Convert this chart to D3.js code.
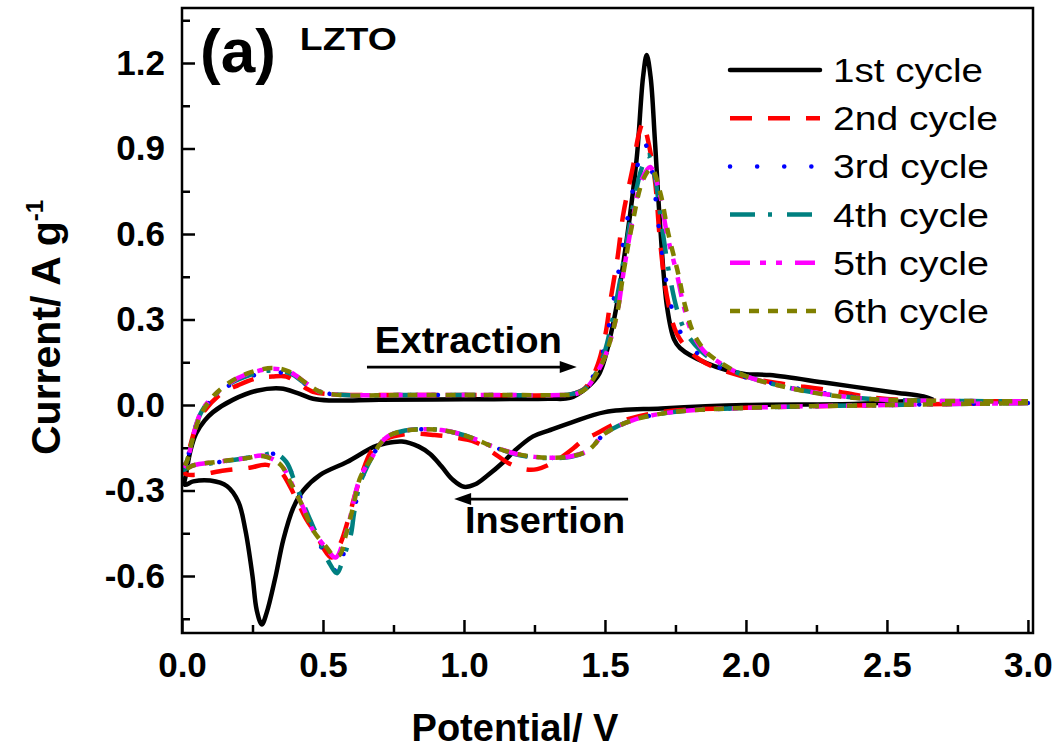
<!DOCTYPE html>
<html>
<head>
<meta charset="utf-8">
<script src="https://cdn.jsdelivr.net/npm/d3@7"></script>
<style>
  body { margin: 0; background: #fff; }
  svg { display: block; font-family: "Liberation Sans", Arial, sans-serif; }
</style>
</head>
<body>
<svg id="cv" width="1064" height="753"></svg>
<script>
// potential (V), current (A g-1) traced along each CV loop
const cycle1 = [
  [2.66,0.02],[2.4,0.004],[2.0,0.0],[1.7,-0.012],[1.5,-0.025],[1.38,-0.062],[1.3,-0.09],[1.245,-0.11],
  [1.18,-0.16],[1.14,-0.2],[1.08,-0.25],[1.04,-0.278],[1.0,-0.287],[0.96,-0.262],[0.92,-0.215],
  [0.88,-0.172],[0.84,-0.146],[0.78,-0.128],[0.72,-0.135],[0.68,-0.147],[0.585,-0.2],[0.49,-0.245],
  [0.43,-0.3],[0.395,-0.36],[0.36,-0.47],[0.33,-0.61],[0.3,-0.73],[0.283,-0.77],[0.265,-0.72],
  [0.25,-0.6],[0.225,-0.44],[0.2,-0.34],[0.16,-0.285],[0.1,-0.265],[0.04,-0.268],[0.01,-0.28],
  [0.015,-0.24],[0.03,-0.16],[0.05,-0.1],[0.08,-0.055],[0.11,-0.025],[0.18,0.018],[0.265,0.05],
  [0.35,0.058],[0.41,0.042],[0.465,0.022],[0.525,0.016],[0.7,0.018],[1.0,0.02],[1.3,0.022],
  [1.376,0.025],[1.435,0.06],[1.48,0.11],[1.53,0.29],[1.577,0.58],[1.613,0.87],[1.635,1.15],
  [1.648,1.228],[1.662,1.15],[1.677,0.93],[1.695,0.64],[1.72,0.345],[1.745,0.23],[1.766,0.2],
  [1.86,0.147],[1.99,0.11],[2.085,0.105],[2.29,0.077],[2.52,0.045],[2.63,0.03],[2.66,0.02]
]
const cycle2 = [
  [3.0,0.008],[2.5,0.0],[2.0,-0.01],[1.7,-0.025],[1.55,-0.06],[1.47,-0.1],[1.42,-0.125],[1.39,-0.15],
  [1.32,-0.2],[1.26,-0.225],[1.22,-0.226],[1.16,-0.205],[1.1,-0.165],[1.04,-0.13],[0.96,-0.113],
  [0.89,-0.105],[0.82,-0.1],[0.75,-0.11],[0.7,-0.13],[0.667,-0.17],[0.64,-0.235],[0.615,-0.31],
  [0.59,-0.4],[0.56,-0.49],[0.53,-0.535],[0.5,-0.5],[0.48,-0.46],[0.44,-0.4],[0.41,-0.34],
  [0.38,-0.28],[0.35,-0.235],[0.3,-0.21],[0.24,-0.22],[0.15,-0.23],[0.05,-0.245],[0.01,-0.24],
  [0.015,-0.2],[0.03,-0.14],[0.05,-0.075],[0.08,-0.02],[0.146,0.045],[0.2,0.07],[0.27,0.095],
  [0.32,0.1],[0.37,0.1],[0.42,0.07],[0.465,0.046],[0.52,0.038],[0.7,0.035],[1.0,0.035],[1.35,0.035],
  [1.39,0.04],[1.43,0.06],[1.47,0.13],[1.5,0.24],[1.52,0.37],[1.545,0.52],[1.565,0.67],[1.6,0.84],
  [1.62,0.95],[1.635,0.99],[1.65,0.94],[1.677,0.79],[1.695,0.58],[1.72,0.38],[1.755,0.25],[1.81,0.18],
  [1.87,0.14],[1.99,0.1],[2.11,0.077],[2.29,0.053],[2.46,0.025],[2.64,0.015],[3.0,0.013]
]
const cycle3 = [
  [3.0,0.007],[2.5,0.0],[2.0,-0.01],[1.74,-0.025],[1.6,-0.053],[1.5,-0.1],[1.44,-0.16],[1.38,-0.18],
  [1.32,-0.186],[1.25,-0.183],[1.18,-0.172],[1.1,-0.145],[1.04,-0.12],[0.98,-0.1],[0.92,-0.088],
  [0.85,-0.085],[0.78,-0.092],[0.73,-0.11],[0.7,-0.14],[0.67,-0.19],[0.65,-0.23],[0.63,-0.28],
  [0.61,-0.38],[0.595,-0.46],[0.578,-0.5],[0.555,-0.595],[0.535,-0.57],[0.51,-0.535],[0.47,-0.44],
  [0.43,-0.35],[0.4,-0.27],[0.37,-0.2],[0.336,-0.172],[0.28,-0.18],[0.2,-0.19],[0.1,-0.205],
  [0.03,-0.215],[0.005,-0.225],[0.02,-0.185],[0.035,-0.125],[0.05,-0.07],[0.07,-0.025],[0.1,0.015],
  [0.17,0.07],[0.24,0.1],[0.3,0.113],[0.36,0.113],[0.4,0.1],[0.44,0.072],[0.49,0.046],[0.56,0.036],
  [0.8,0.035],[1.1,0.035],[1.35,0.035],[1.39,0.04],[1.43,0.06],[1.47,0.125],[1.5,0.21],[1.52,0.31],
  [1.545,0.45],[1.57,0.6],[1.6,0.76],[1.625,0.88],[1.64,0.92],[1.66,0.86],[1.68,0.72],[1.7,0.55],
  [1.73,0.37],[1.76,0.27],[1.81,0.2],[1.87,0.15],[1.99,0.1],[2.11,0.072],[2.29,0.04],[2.46,0.021],
  [2.64,0.015],[3.0,0.013]
]
const cycle4 = [
  [3.0,0.007],[2.5,0.0],[2.0,-0.01],[1.74,-0.025],[1.6,-0.053],[1.5,-0.1],[1.44,-0.16],[1.38,-0.182],
  [1.32,-0.186],[1.25,-0.184],[1.18,-0.172],[1.1,-0.145],[1.04,-0.12],[0.98,-0.1],[0.92,-0.088],
  [0.85,-0.085],[0.78,-0.092],[0.73,-0.11],[0.7,-0.14],[0.67,-0.19],[0.65,-0.23],[0.63,-0.28],
  [0.61,-0.38],[0.6,-0.45],[0.585,-0.5],[0.565,-0.56],[0.55,-0.59],[0.52,-0.55],[0.48,-0.46],
  [0.44,-0.37],[0.4,-0.27],[0.37,-0.2],[0.33,-0.17],[0.28,-0.178],[0.2,-0.19],[0.1,-0.205],
  [0.03,-0.215],[0.005,-0.228],[0.02,-0.19],[0.035,-0.13],[0.05,-0.07],[0.07,-0.022],[0.1,0.018],
  [0.17,0.075],[0.24,0.105],[0.3,0.12],[0.35,0.12],[0.39,0.108],[0.43,0.08],[0.48,0.05],[0.56,0.036],
  [0.8,0.035],[1.1,0.035],[1.35,0.035],[1.39,0.04],[1.43,0.058],[1.47,0.115],[1.5,0.19],[1.52,0.27],
  [1.545,0.39],[1.57,0.53],[1.6,0.7],[1.63,0.83],[1.652,0.877],[1.675,0.81],[1.7,0.64],[1.73,0.45],
  [1.76,0.32],[1.79,0.25],[1.84,0.19],[1.88,0.16],[1.99,0.105],[2.11,0.07],[2.29,0.037],[2.46,0.02],
  [2.64,0.015],[3.0,0.013]
]
const cycle5 = [
  [3.0,0.007],[2.5,0.0],[2.0,-0.01],[1.74,-0.025],[1.6,-0.053],[1.5,-0.1],[1.44,-0.16],[1.38,-0.18],
  [1.32,-0.185],[1.25,-0.182],[1.18,-0.17],[1.1,-0.145],[1.04,-0.12],[0.98,-0.1],[0.92,-0.088],
  [0.85,-0.085],[0.78,-0.092],[0.73,-0.11],[0.7,-0.14],[0.67,-0.19],[0.65,-0.22],[0.63,-0.26],
  [0.615,-0.31],[0.6,-0.38],[0.575,-0.47],[0.545,-0.535],[0.51,-0.5],[0.465,-0.44],[0.43,-0.36],
  [0.4,-0.3],[0.383,-0.263],[0.35,-0.21],[0.29,-0.178],[0.22,-0.188],[0.12,-0.2],[0.04,-0.212],
  [0.005,-0.228],[0.02,-0.19],[0.035,-0.13],[0.05,-0.07],[0.07,-0.02],[0.11,0.03],[0.17,0.078],
  [0.23,0.108],[0.32,0.127],[0.38,0.117],[0.44,0.077],[0.49,0.046],[0.56,0.036],[0.8,0.035],
  [1.1,0.035],[1.35,0.035],[1.39,0.037],[1.43,0.055],[1.47,0.11],[1.5,0.17],[1.52,0.23],[1.545,0.33],
  [1.565,0.46],[1.6,0.66],[1.63,0.79],[1.66,0.835],[1.69,0.76],[1.72,0.6],[1.755,0.46],[1.78,0.345],
  [1.81,0.25],[1.85,0.19],[1.88,0.165],[1.99,0.105],[2.11,0.07],[2.29,0.037],[2.46,0.02],
  [2.64,0.015],[3.0,0.013]
]
const cycle6 = [
  [3.0,0.007],[2.5,0.0],[2.0,-0.01],[1.74,-0.025],[1.6,-0.053],[1.5,-0.1],[1.44,-0.16],[1.38,-0.18],
  [1.32,-0.185],[1.25,-0.182],[1.18,-0.17],[1.1,-0.145],[1.04,-0.12],[0.98,-0.1],[0.92,-0.088],
  [0.85,-0.085],[0.78,-0.092],[0.73,-0.11],[0.7,-0.14],[0.67,-0.19],[0.65,-0.22],[0.63,-0.26],
  [0.607,-0.357],[0.58,-0.46],[0.56,-0.525],[0.54,-0.53],[0.513,-0.5],[0.465,-0.44],[0.43,-0.36],
  [0.4,-0.3],[0.38,-0.263],[0.35,-0.21],[0.29,-0.18],[0.22,-0.188],[0.12,-0.2],[0.04,-0.212],
  [0.005,-0.23],[0.02,-0.19],[0.035,-0.13],[0.064,-0.04],[0.11,0.03],[0.17,0.08],[0.23,0.11],
  [0.32,0.13],[0.38,0.117],[0.44,0.077],[0.49,0.046],[0.56,0.035],[0.8,0.035],[1.1,0.035],
  [1.35,0.035],[1.39,0.037],[1.43,0.055],[1.47,0.11],[1.5,0.17],[1.52,0.23],[1.545,0.33],
  [1.565,0.46],[1.6,0.65],[1.635,0.79],[1.665,0.83],[1.695,0.75],[1.725,0.6],[1.76,0.46],
  [1.785,0.345],[1.815,0.25],[1.855,0.19],[1.885,0.165],[1.99,0.105],[2.11,0.07],[2.29,0.035],
  [2.46,0.02],[2.64,0.015],[3.0,0.013]
]

const cycleNames = ["1st cycle", "2nd cycle", "3rd cycle", "4th cycle", "5th cycle", "6th cycle"]
const cycleColors = ["#000000", "#ff0000", "#0000ff", "#008080", "#ff00ff", "#808000"]
const cycleDashes = ["", "22,16", "0.1,27", "25,13,4,15", "20,10,6,10,6,13", "10,9"]
const cycleCaps = ["round", "butt", "round", "butt", "butt", "butt"]
const cycles = [cycle1, cycle2, cycle3, cycle4, cycle5, cycle6]

const xTicks = [0, 0.5, 1.0, 1.5, 2.0, 2.5, 3.0]
const yTicks = [-0.6, -0.3, 0.0, 0.3, 0.6, 0.9, 1.2]

const svg = d3.select('#cv')
const x = d3.scaleLinear().domain([0, 3.018]).range([182, 1033])
const y = d3.scaleLinear().domain([-0.8, 1.393]).range([633, 8])
const fmt = d => d.toFixed(1)

svg.append('defs').append('clipPath').attr('id', 'plotclip')
    .append('rect')
    .attr('x', x(0)).attr('y', y(1.393))
    .attr('width', x(3.018) - x(0)).attr('height', y(-0.8) - y(1.393))

// minor ticks
svg.append('g')
    .attr('transform', `translate(0,${y(-0.8)})`)
    .call(d3.axisBottom(x).tickValues(d3.range(0.25, 3.0, 0.5)).tickSize(-8).tickFormat(''))
    .call(g => g.select('.domain').remove())
svg.append('g')
    .attr('transform', `translate(${x(0)},0)`)
    .call(d3.axisLeft(y).tickValues([-0.75, -0.45, -0.15, 0.15, 0.45, 0.75, 1.05, 1.35]).tickSize(-8).tickFormat(''))
    .call(g => g.select('.domain').remove())

// major ticks with labels
const xAxis = svg.append('g')
    .attr('transform', `translate(0,${y(-0.8)})`)
    .call(d3.axisBottom(x).tickValues(xTicks).tickSize(-13).tickPadding(19).tickFormat(fmt))
xAxis.select('.domain').remove()
const yAxis = svg.append('g')
    .attr('transform', `translate(${x(0)},0)`)
    .call(d3.axisLeft(y).tickValues(yTicks).tickSize(-13).tickPadding(17).tickFormat(fmt))
yAxis.select('.domain').remove()

svg.selectAll('.tick line').attr('stroke', '#000').attr('stroke-width', 2.5)
svg.selectAll('.tick text')
    .attr('fill', '#000')
    .style('font-family', '"Liberation Sans", Arial, sans-serif')
    .style('font-size', '35px')
    .style('font-weight', 'bold')

// curves
const line = d3.line()
    .x(d => x(d[0]))
    .y(d => y(d[1]))
    .curve(d3.curveCatmullRom.alpha(0.5))

const plot = svg.append('g').attr('clip-path', 'url(#plotclip)')
cycles.forEach((c, i) => {
    plot.append('path')
        .datum(c)
        .attr('fill', 'none')
        .attr('stroke', cycleColors[i])
        .attr('stroke-width', 4.5)
        .attr('stroke-dasharray', cycleDashes[i] || null)
        .attr('stroke-linecap', cycleCaps[i])
        .attr('stroke-linejoin', 'round')
        .attr('d', line)
})

// frame
svg.append('rect')
    .attr('x', x(0)).attr('y', y(1.393))
    .attr('width', x(3.018) - x(0)).attr('height', y(-0.8) - y(1.393))
    .attr('fill', 'none').attr('stroke', '#000').attr('stroke-width', 2.5)

// annotations
function arrow(x1, x2, yv) {
    const dir = x2 > x1 ? 1 : -1
    const px2 = x(x2), py = y(yv)
    svg.append('line')
        .attr('x1', x(x1)).attr('x2', px2 - dir * 10)
        .attr('y1', py).attr('y2', py)
        .attr('stroke', '#000').attr('stroke-width', 2.8)
    svg.append('path')
        .attr('d', `M${px2},${py} L${px2 - dir * 17},${py - 6} L${px2 - dir * 17},${py + 6} Z`)
        .attr('fill', '#000')
}
arrow(0.656, 1.40, 0.133)
arrow(1.582, 0.965, -0.33)

svg.append('text')
    .attr('x', x(0.684)).attr('y', y(0.182))
    .attr('font-size', 36).attr('font-weight', 'bold')
    .attr('textLength', 187).attr('lengthAdjust', 'spacingAndGlyphs')
    .text('Extraction')
svg.append('text')
    .attr('x', x(1.004)).attr('y', y(-0.449))
    .attr('font-size', 36).attr('font-weight', 'bold')
    .attr('textLength', 160).attr('lengthAdjust', 'spacingAndGlyphs')
    .text('Insertion')

svg.append('text')
    .attr('x', x(0.064)).attr('y', y(1.168))
    .attr('font-size', 62).attr('font-weight', 'bold')
    .text('(a)')
svg.append('text')
    .attr('x', x(0.418)).attr('y', y(1.246))
    .attr('font-size', 32).attr('font-weight', 'bold')
    .attr('textLength', 97).attr('lengthAdjust', 'spacingAndGlyphs')
    .text('LZTO')

// axis titles
svg.append('text')
    .attr('x', 515).attr('y', 741)
    .attr('text-anchor', 'middle')
    .attr('font-size', 38).attr('font-weight', 'bold')
    .text('Potential/ V')
const yl = svg.append('text')
    .attr('transform', 'translate(60,455) rotate(-90)')
    .attr('font-size', 41).attr('font-weight', 'bold')
yl.append('tspan').text('Current/ A g')
yl.append('tspan').attr('font-size', 24).attr('dy', -17).text('-1')

// legend
const legend = svg.append('g')
cycleNames.forEach((name, i) => {
    const ly = 70 + i * 48.2
    legend.append('line')
        .attr('x1', 730).attr('x2', 820)
        .attr('y1', ly).attr('y2', ly)
        .attr('stroke', cycleColors[i])
        .attr('stroke-width', 4.5)
        .attr('stroke-dasharray', cycleDashes[i] || null)
        .attr('stroke-linecap', cycleCaps[i])
    legend.append('text')
        .attr('x', 833).attr('y', ly + 12)
        .attr('font-size', 33)
        .attr('textLength', i == 0 ? 150 : (i == 1 ? 165 : 156))
        .attr('lengthAdjust', 'spacingAndGlyphs')
        .text(name)
})
</script>
</body>
</html>
